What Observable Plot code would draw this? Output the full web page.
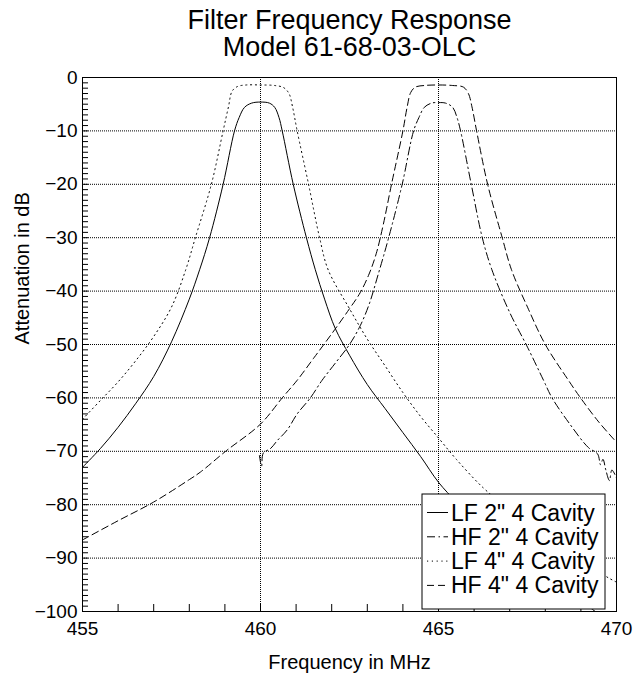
<!DOCTYPE html>
<html><head><meta charset="utf-8">
<script src="https://cdn.jsdelivr.net/npm/d3@7"></script>
<script src="https://cdn.jsdelivr.net/npm/@observablehq/plot@0.6"></script>
<style>
body{margin:0;background:#fff;}
#chart{width:639px;height:675px;}
svg{font-family:"Liberation Sans",Arial,sans-serif;}
</style></head><body><div id="chart"></div>
<script>
const titleLines = ["Filter Frequency Response", "Model 61-68-03-OLC"];
const xLabel = "Frequency in MHz";
const yLabel = "Attenuation in dB";
const xTicks = [455, 460, 465, 470];
const yTicks = [0, -10, -20, -30, -40, -50, -60, -70, -80, -90, -100];
const seriesNames = ["LF 2\" 4 Cavity", "HF 2\" 4 Cavity", "LF 4\" 4 Cavity", "HF 4\" 4 Cavity"];

// LF 2" 4 Cavity (solid)
const lf2Freq = [455, 455.5, 456, 456.5, 457, 457.5, 458, 458.29, 458.57, 458.95, 459.27, 459.4, 459.55, 459.75, 460, 460.25, 460.4, 460.52, 460.61, 460.92, 461.29, 461.54, 461.8, 462.1, 462.5, 463, 463.5, 464, 464.5, 465, 465.5, 466, 467, 468, 469, 469.5];
const lf2Db   = [-73, -69.5, -65.5, -61, -56, -49.5, -41.5, -36, -30, -20, -10, -7.5, -5.6, -4.8, -4.6, -4.8, -5.6, -7.5, -10, -20, -30, -36, -41.5, -47, -52, -57.5, -62, -66.5, -71, -75.8, -79.5, -83, -88.5, -93.5, -98, -100.5];

// HF 2" 4 Cavity (dash-dot)
const hf2Freq = [459.97, 460.03, 460.08, 460.28, 460.47, 460.75, 461.03, 461.4, 461.73, 462.1, 462.5, 462.8, 463.05, 463.3, 463.6, 463.98, 464.3, 464.45, 464.6, 464.8, 465, 465.2, 465.4, 465.52, 465.62, 465.92, 466.23, 466.5, 467, 467.5, 467.95, 468.19, 468.7, 469.21, 469.47, 469.55, 469.62, 469.7, 469.8, 469.87, 470];
const hf2Db   = [-70.8, -72.8, -70.3, -69.5, -68, -66, -63, -60, -56.7, -53.5, -50, -46.5, -42.5, -37, -30, -20, -10, -7.5, -5.6, -4.8, -4.7, -4.8, -5.6, -7.5, -10, -20, -30, -36, -44, -50.5, -56.7, -60, -65, -69.3, -70.5, -72.5, -71.5, -73.5, -75.5, -73.5, -75];

// LF 4" 4 Cavity (dotted)
const lf4Freq = [455, 455.5, 456, 456.5, 457, 457.5, 457.9, 458.17, 458.62, 458.95, 459.1, 459.2, 459.35, 459.6, 460, 460.4, 460.65, 460.8, 460.9, 461.03, 461.35, 461.66, 461.9, 462.5, 463, 463.5, 464, 464.5, 465, 465.5, 466.25, 467, 468, 469, 469.8, 470];
const lf4Db   = [-64, -60.5, -57, -53, -48.5, -43, -36, -30, -20, -10, -5.5, -2.6, -1.7, -1.4, -1.4, -1.5, -1.9, -3, -5.5, -10, -20, -30, -36, -43.3, -49, -54, -59, -63.5, -67.5, -71.5, -76.8, -81, -86.5, -90.5, -93.8, -94.5];

// HF 4" 4 Cavity (dashed)
const hf4Freq = [455, 456, 457, 458, 458.31, 459.02, 460, 460.61, 461.03, 461.5, 462, 462.5, 462.8, 463.05, 463.25, 463.45, 463.68, 464, 464.12, 464.22, 464.35, 464.6, 465, 465.4, 465.7, 465.84, 465.94, 466.07, 466.38, 466.79, 467.05, 467.5, 468, 468.65, 468.99, 469.5, 470];
const hf4Db   = [-86.6, -83, -79.5, -75.3, -73.9, -70, -64.9, -60, -56.7, -52.5, -48, -43.3, -40.3, -36.8, -33, -27.5, -20, -10, -5.5, -2.8, -1.8, -1.5, -1.4, -1.5, -1.8, -3, -5.5, -10, -20, -30, -36, -43, -50, -56.7, -60, -64.5, -68.3];

const rows = (fs, ds) => fs.map((f, i) => ({f, db: ds[i]}));
const series = [
  {name: seriesNames[0], data: rows(lf2Freq, lf2Db), dash: null},
  {name: seriesNames[1], data: rows(hf2Freq, hf2Db), dash: "8,3.5,1.5,3.5"},
  {name: seriesNames[2], data: rows(lf4Freq, lf4Db), dash: "1.2,3.6"},
  {name: seriesNames[3], data: rows(hf4Freq, hf4Db), dash: "7,4"}
];

const FONT = "Liberation Sans, Arial, sans-serif";
const plot = Plot.plot({
  width: 639, height: 675,
  marginLeft: 82, marginRight: 23, marginTop: 77, marginBottom: 64,
  style: {fontFamily: FONT, background: "white", color: "black"},
  x: {domain: [455, 470]},
  y: {domain: [-100, 0]},
  marks: [
    Plot.gridY({ticks: yTicks.filter(d => d !== 0 && d !== -100), stroke: "black", strokeOpacity: 1, strokeDasharray: "1,1"}),
    Plot.gridX({ticks: [460, 465], stroke: "black", strokeOpacity: 1, strokeDasharray: "1,1"}),
    ...series.map(s => Plot.line(s.data, {x: "f", y: "db", stroke: "black", strokeWidth: 1, strokeDasharray: s.dash, curve: "catmull-rom", clip: true})),
    Plot.axisY({ticks: d3.range(-100, 1, 1), tickSize: 6, dx: 6, tickFormat: () => "", label: null}),
    Plot.axisX({ticks: d3.range(455, 471, 1), tickSize: 7, dy: -7, tickFormat: () => "", label: null}),
    Plot.axisY({ticks: yTicks, tickSize: 0, tickPadding: 5, fontSize: 19, label: null}),
    Plot.axisX({ticks: xTicks, tickSize: 0, tickPadding: 10, fontSize: 19, label: null}),
    Plot.frame({stroke: "black"}),
    Plot.text([titleLines[0]], {text: d => d, frameAnchor: "top", lineAnchor: "middle", dy: -57, fontSize: 27}),
    Plot.text([titleLines[1]], {text: d => d, frameAnchor: "top", lineAnchor: "middle", dy: -30, fontSize: 27}),
    Plot.text([xLabel], {text: d => d, frameAnchor: "bottom", lineAnchor: "middle", dy: 51, fontSize: 20}),
    Plot.text([yLabel], {text: d => d, frameAnchor: "left", lineAnchor: "middle", dx: -60, rotate: -90, fontSize: 20})
  ]
});
document.getElementById("chart").appendChild(plot);

// Legend box inside the plot frame
const svg = d3.select(plot);
const lg = svg.append("g").attr("class", "legend").attr("text-anchor", "start");
const bx = 422, by = 494, bw = 183, bh = 115;
lg.append("rect").attr("x", bx).attr("y", by).attr("width", bw).attr("height", bh)
  .attr("fill", "white").attr("stroke", "black").attr("stroke-width", 1);
series.forEach((s, i) => {
  const cy = 512.5 + i * 24.3;
  lg.append("line").attr("x1", 427).attr("x2", 448).attr("y1", cy).attr("y2", cy)
    .attr("stroke", "black").attr("stroke-width", 1).attr("stroke-dasharray", s.dash);
  lg.append("text").attr("x", 451).attr("y", cy).attr("dy", "0.35em").attr("text-anchor", "start")
    .attr("font-size", 23).attr("font-family", FONT).attr("fill", "black").text(s.name);
});
</script></body></html>
